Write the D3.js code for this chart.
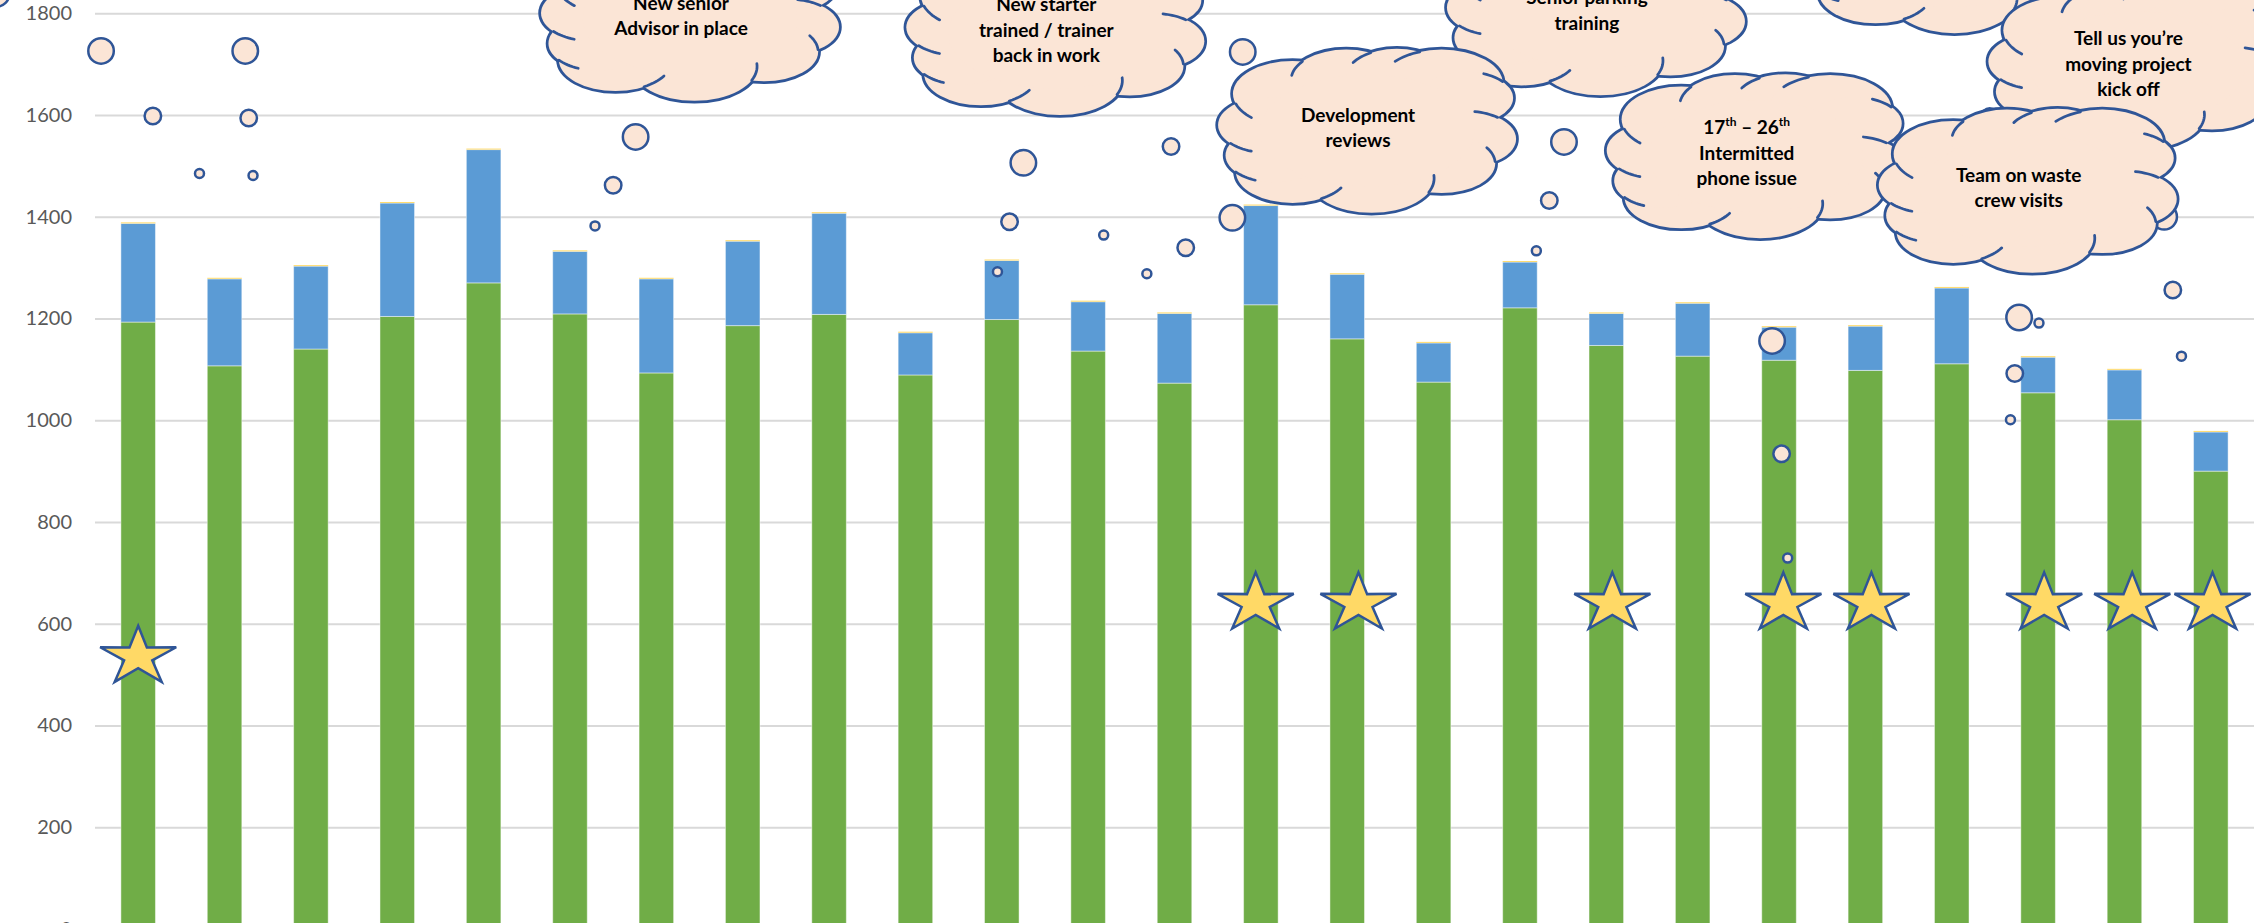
<!DOCTYPE html>
<html lang="en">
<head>
    <meta charset="UTF-8">
    <title>Volumes with annotations</title>
    <script src="https://cdnjs.cloudflare.com/ajax/libs/d3/7.8.5/d3.min.js"></script>
    <style>
        html, body { margin: 0; padding: 0; background: #fff; overflow: hidden; }
        svg { display: block; }
        .y-axis text { font-family: Lato, "Open Sans", sans-serif; font-size: 20px; fill: #595959; }
        .grid line { stroke: #d9d9d9; stroke-width: 2; }
        .cloud-text { font-family: Lato, "Open Sans", sans-serif; font-weight: bold; font-size: 19px; fill: #000; }
    </style>
</head>
<body>
<svg id="chart" width="2254" height="923"></svg>
<script>
    // bar data (one bar per period)
    const periods = d3.range(1, 26).map(String);
    const resolved = [1193, 1107, 1140, 1204, 1270, 1209, 1093, 1186, 1208, 1089, 1198, 1136, 1073,
                      1227, 1160, 1075, 1221, 1147, 1126, 1118, 1098, 1111, 1054, 1001, 900];
    const outstanding = [194, 171, 163, 223, 262, 123, 185, 166, 199, 83, 116, 97, 137,
                         195, 127, 77, 90, 63, 104, 65, 87, 149, 70, 98, 77];
    const other = d3.range(25).map(() => 2);
    const yTicks = [0, 200, 400, 600, 800, 1000, 1200, 1400, 1600, 1800];

    // star markers (bar position, value)
    const starPos = [0, 12.94, 14.13, 17.07, 19.05, 20.07, 22.07, 23.09, 24.02];
    const starValue = [535, 640, 640, 640, 640, 640, 640, 640, 640];

    // thought bubbles (bar position, value, size class)
    const bubblePos = [-0.43, 0.17, 0.71, 1.24, 1.28, 1.33, 5.76, 5.50, 5.29, 10.25, 10.09, 9.95,
                       12.79, 11.96, 11.18, 12.67, 12.13, 11.68, 16.51, 16.34, 16.19, 18.92, 19.03, 19.10,
                       21.78, 22.01, 21.73, 21.68, 23.56, 23.66, 23.46, 21.44, -1.64];
    const bubbleValue = [1726, 1598, 1485, 1726, 1594, 1481, 1557, 1462, 1382, 1506, 1390, 1292,
                         1724, 1538, 1364, 1398, 1339, 1288, 1547, 1432, 1333, 1156, 934, 729,
                         1202, 1191, 1092, 1001, 1256, 1126, 1400, 1597, 1838];
    const bubbleSize = ["L", "M", "S", "L", "M", "S", "L", "M", "S", "L", "M", "S",
                        "L", "M", "S", "L", "M", "S", "L", "M", "S", "L", "M", "S",
                        "L", "S", "M", "S", "M", "S", "L", "M", "L"];

    // cloud callouts (bar position, value, text) in drawing order
    const cloudPos = [20.98, 16.88, 6.39, 10.62, 14.23, 18.73, 23.15, 21.88];
    const cloudValue = [1922, 1800, 1789, 1761, 1569, 1519, 1694, 1451];
    const cloudText = [
        [],
        ["Senior parking", "training"],
        ["New senior", "Advisor in place"],
        ["New starter", "trained / trainer", "back in work"],
        ["Development", "reviews"],
        ["17^th – 26^th", "Intermitted", "phone issue"],
        ["Tell us you’re", "moving project", "kick off"],
        ["Team on waste", "crew visits"]
    ];

    const W = 2254, H = 923;
    const left = 95;
    const GREEN = "#70ad47", BLUE = "#5b9bd5", GOLD = "#ffc000";
    const INK = "#2f5597", PEACH = "#fbe5d6", STAR = "#ffd966";

    const svg = d3.select("#chart");

    const x = d3.scaleBand().domain(periods).range([left, W]).paddingInner(0.6).paddingOuter(0.3);
    const y = d3.scaleLinear().domain([0, 1800]).range([929, 13.25]);
    // fractional bar position -> pixel
    const px = i => x(periods[0]) + x.bandwidth() / 2 + i * x.step();

    // gridlines
    svg.append("g")
        .attr("class", "grid")
        .attr("transform", `translate(${left},0)`)
        .call(d3.axisLeft(y).tickValues(yTicks).tickSize(-(W - left)).tickFormat(""))
        .call(g => g.select(".domain").remove());

    // axis labels
    svg.append("g")
        .attr("class", "y-axis")
        .attr("transform", `translate(${left},0)`)
        .call(d3.axisLeft(y).tickValues(yTicks).tickSize(0).tickPadding(23).tickFormat(d3.format("d")))
        .call(g => g.select(".domain").remove());

    // stacked bars
    const rows = periods.map((p, i) => ({ period: p, resolved: resolved[i], outstanding: outstanding[i], other: other[i] }));
    const stack = d3.stack().keys(["resolved", "outstanding", "other"])(rows);
    const colors = { resolved: GREEN, outstanding: BLUE, other: GOLD };

    svg.append("g").selectAll("g")
        .data(stack)
        .join("g")
        .attr("fill", d => colors[d.key])
        .selectAll("rect")
        .data(d => d)
        .join("rect")
        .attr("x", d => x(d.data.period))
        .attr("width", x.bandwidth())
        .attr("y", d => y(d[1]))
        .attr("height", d => y(d[0]) - y(d[1]))
        .attr("stroke", "rgba(255,255,255,0.45)")
        .attr("stroke-width", 1);

    // stars
    function starPath(sx, sy, ratio) {
        const pts = d3.range(10).map(k => {
            const a = (-90 + k * 36) * Math.PI / 180;
            const r = k % 2 ? ratio : 1;
            return [Math.cos(a) * r * sx, Math.sin(a) * r * sy];
        });
        return "M" + pts.map(p => p.join(",")).join("L") + "Z";
    }
    const starD = starPath(40, 31, 0.37);
    svg.append("g").selectAll("path")
        .data(starPos)
        .join("path")
        .attr("d", starD)
        .attr("transform", (d, i) => `translate(${px(d)},${y(starValue[i])})`)
        .attr("fill", STAR)
        .attr("stroke", INK)
        .attr("stroke-width", 2.5)
        .attr("stroke-linejoin", "miter");

    // bubbles
    const bubbleR = { L: 12.75, M: 8.25, S: 4.5 };
    svg.append("g").selectAll("circle")
        .data(bubblePos)
        .join("circle")
        .attr("cx", d => px(d))
        .attr("cy", (d, i) => y(bubbleValue[i]))
        .attr("r", (d, i) => bubbleR[bubbleSize[i]])
        .attr("fill", PEACH)
        .attr("stroke", INK)
        .attr("stroke-width", 2.5);

    // clouds
    const bumps = [
        [-0.50, -0.45, 0.40], [-0.14, -0.62, 0.37], [0.20, -0.66, 0.34], [0.50, -0.58, 0.41],
        [0.66, -0.40, 0.32], [0.66, 0.10, 0.34], [0.50, 0.40, 0.36], [0.03, 0.58, 0.42],
        [-0.50, 0.50, 0.38], [-0.62, 0.30, 0.33], [-0.66, -0.07, 0.34]
    ];
    const sw = 2.75;
    const line = d3.line();

    function stubs() {
        const out = [];
        for (let k = 0; k < bumps.length; k++) {
            const [x1, y1, r1] = bumps[k];
            const [x2, y2, r2] = bumps[(k + 1) % bumps.length];
            const dx = x2 - x1, dy = y2 - y1, d = Math.hypot(dx, dy);
            const a = (r1 * r1 - r2 * r2 + d * d) / (2 * d);
            const h = Math.sqrt(r1 * r1 - a * a);
            if (!isFinite(h)) continue;
            const mx = x1 + a * dx / d, my = y1 + a * dy / d;
            const cands = [[mx + h * dy / d, my - h * dx / d], [mx - h * dy / d, my + h * dx / d]];
            const P = Math.hypot(...cands[0]) > Math.hypot(...cands[1]) ? cands[0] : cands[1];
            const phi = Math.atan2(P[1] - y2, P[0] - x2);
            const e = 0.05;
            const test = Math.hypot(x2 + r2 * Math.cos(phi + e) - x1, y2 + r2 * Math.sin(phi + e) - y1) < r1 ? 1 : -1;
            out.push(d3.range(9).map(j => {
                const t = phi + test * 0.5 * j / 8;
                return [x2 + r2 * Math.cos(t), y2 + r2 * Math.sin(t)];
            }));
        }
        return out;
    }
    const stubList = stubs();

    function drawCloud(g, cx, cy, rx, ry, lines) {
        const shapes = bumps.map(([bx, by, br]) => ({ cx: cx + bx * rx, cy: cy + by * ry, rx: br * rx, ry: br * ry }));
        shapes.push({ cx: cx, cy: cy, rx: 0.72 * rx, ry: 0.68 * ry });

        g.selectAll("ellipse.edge")
            .data(shapes)
            .join("ellipse")
            .attr("class", "edge")
            .attr("cx", d => d.cx).attr("cy", d => d.cy)
            .attr("rx", d => d.rx).attr("ry", d => d.ry)
            .attr("fill", INK).attr("stroke", INK).attr("stroke-width", 2 * sw);

        g.selectAll("ellipse.body")
            .data(shapes)
            .join("ellipse")
            .attr("class", "body")
            .attr("cx", d => d.cx).attr("cy", d => d.cy)
            .attr("rx", d => d.rx).attr("ry", d => d.ry)
            .attr("fill", PEACH);

        g.selectAll("path.stub")
            .data(stubList)
            .join("path")
            .attr("class", "stub")
            .attr("d", pts => line(pts.map(([u, v]) => [cx + u * rx, cy + v * ry])))
            .attr("fill", "none").attr("stroke", INK).attr("stroke-width", sw)
            .attr("stroke-linecap", "round");

        const lh = 25.5;
        lines.forEach((txt, j) => {
            const t = g.append("text")
                .attr("class", "cloud-text")
                .attr("text-anchor", "middle")
                .attr("x", cx - 9)
                .attr("y", cy - 3 + (j - (lines.length - 1) / 2) * lh)
                .attr("dy", "0.35em");
            const parts = txt.split(/\^(\w+)/);
            parts.forEach((p, k) => {
                if (!p) return;
                if (k % 2) {
                    t.append("tspan").attr("font-size", 12).attr("dy", -8).text(p);
                } else {
                    const ts = t.append("tspan").text(p);
                    if (k > 0) ts.attr("dy", 8);
                }
            });
        });
    }

    const cloudLayer = svg.append("g");
    cloudPos.forEach((p, i) => {
        drawCloud(cloudLayer.append("g"), px(p), y(cloudValue[i]), 149, 82, cloudText[i]);
    });
</script>
</body>
</html>
